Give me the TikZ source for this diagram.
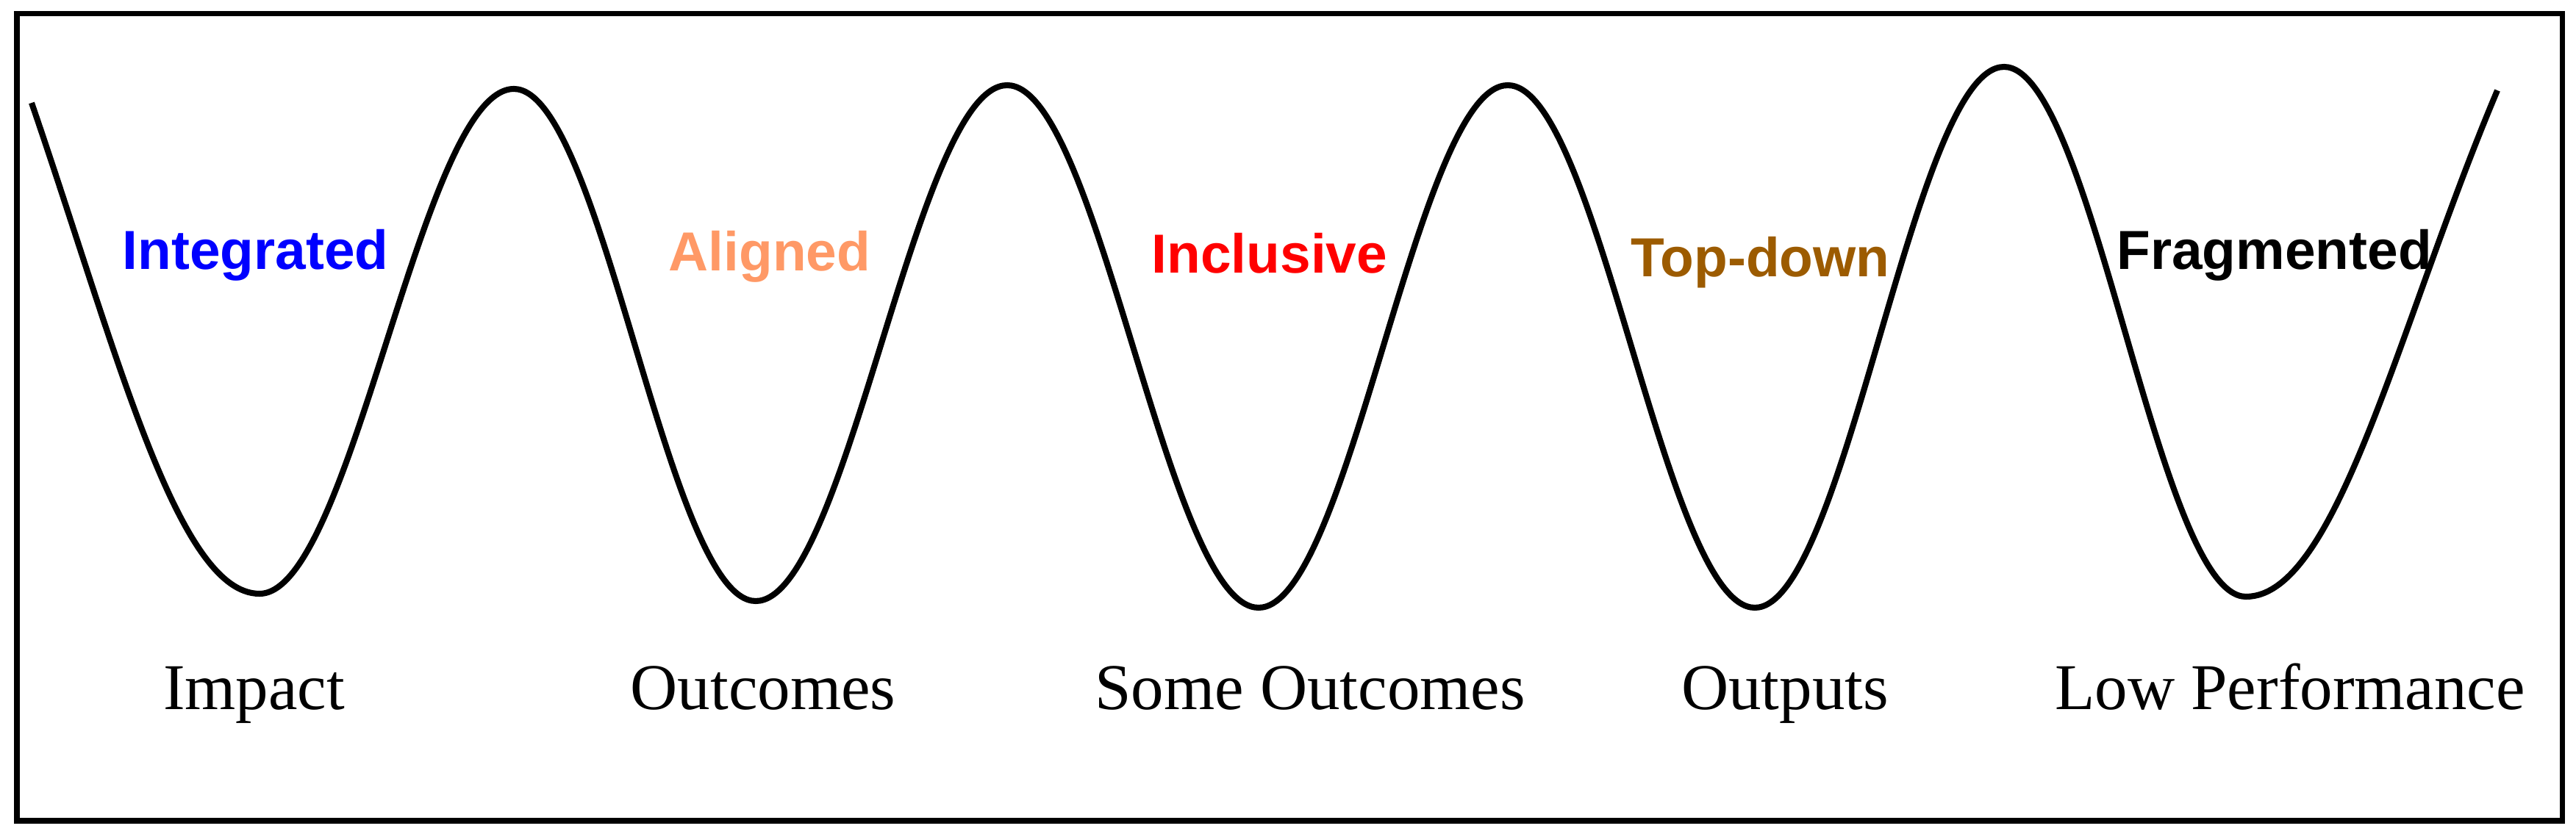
\documentclass[tikz,border=0pt]{standalone}
\usepackage{fontspec}
\setmainfont{Liberation Serif}
\newfontfamily\labelsans{Liberation Sans}

\begin{document}
\begin{tikzpicture}[
        approach/.style={anchor=base, inner sep=0pt, font=\labelsans\bfseries\fontsize{21.3pt}{24pt}\selectfont},
        result/.style={anchor=base, inner sep=0pt, font=\fontsize{25.3pt}{28pt}\selectfont}
    ]
        \definecolor{wblue}{RGB}{0,0,255}
        \definecolor{wsalmon}{RGB}{255,153,102}
        \definecolor{wred}{RGB}{255,0,0}
        \definecolor{wbrown}{RGB}{156,91,0}

        % Page size and outer frame
        \useasboundingbox (0,0) rectangle (35.04,11.34);
        \draw[line width=2pt] (0.23,0.17) rectangle (34.85,11.155);

        % Ends, troughs and crests of the wave
        \coordinate (start) at (0.43,9.94);
        \coordinate (low1) at (3.53,3.26);
        \coordinate (high1) at (6.99,10.13);
        \coordinate (low2) at (10.28,3.16);
        \coordinate (high2) at (13.70,10.18);
        \coordinate (low3) at (17.12,3.07);
        \coordinate (high3) at (20.51,10.18);
        \coordinate (low4) at (23.87,3.07);
        \coordinate (high4) at (27.26,10.43);
        \coordinate (low5) at (30.55,3.22);
        \coordinate (end) at (33.97,10.11);

        % The wave itself
        \draw[line width=2.3pt, line join=round]
            (start) .. controls +(1.15,-3.35) and +(-1.12,0) .. (low1)
            .. controls +(1.26,0) and +(-1.26,0) .. (high1)
            .. controls +(1.20,0) and +(-1.20,0) .. (low2)
            .. controls +(1.245,0) and +(-1.245,0) .. (high2)
            .. controls +(1.245,0) and +(-1.245,0) .. (low3)
            .. controls +(1.235,0) and +(-1.235,0) .. (high3)
            .. controls +(1.225,0) and +(-1.225,0) .. (low4)
            .. controls +(1.235,0) and +(-1.235,0) .. (high4)
            .. controls +(1.20,0) and +(-1.20,0) .. (low5)
            .. controls +(1.24,0) and +(-1.35,-3.2) .. (end);

        % Labels inside the valleys
        \node[approach, text=wblue] (integrated) at (3.475,7.67) {Integrated};
        \node[approach, text=wsalmon] (aligned) at (10.47,7.65) {Aligned};
        \node[approach, text=wred] (inclusive) at (17.27,7.62) {Inclusive};
        \node[approach, text=wbrown] (topdown) at (23.945,7.57) {Top-down};
        \node[approach, text=black] (fragmented) at (30.935,7.67) {Fragmented};

        % Results under the troughs
        \node[result] (impact) at (3.455,1.69) {Impact};
        \node[result] (outcomes) at (10.38,1.69) {Outcomes};
        \node[result] (someout) at (17.82,1.69) {Some Outcomes};
        \node[result] (outputs) at (24.28,1.69) {Outputs};
        \node[result] (lowperf) at (31.15,1.69) {Low Performance};
    \end{tikzpicture}
\end{document}
